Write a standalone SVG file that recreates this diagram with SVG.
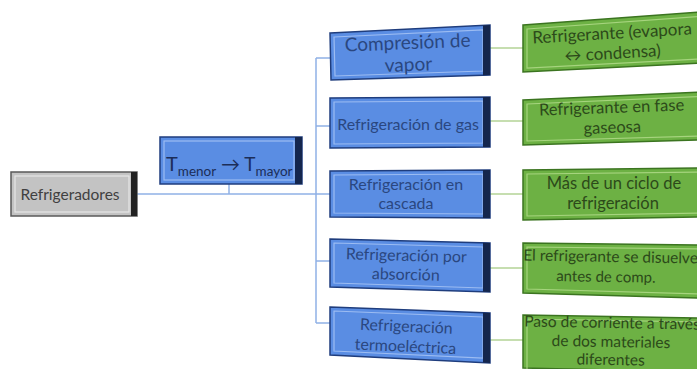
<svg xmlns="http://www.w3.org/2000/svg" width="697" height="369" viewBox="0 0 697 369">
<style>
.bg{fill:#ffffff}
.gray{fill:#c3c3c3;stroke:#5a5a5a;stroke-width:1.5}
.grayin{fill:none;stroke:#e6e6e6;stroke-width:1.2}
.grayband{fill:#222222}
.blue{fill:#5a8de3;stroke:#1f3d7d;stroke-width:1.5}
.bluein{fill:none;stroke:#9cbcf2;stroke-width:1.2}
.blueband{fill:#14264d}
.green{fill:#6db144;stroke:#3b7420;stroke-width:1.5}
.greenin{fill:none;stroke:#a6d47e;stroke-width:1.2}
text{font-family:Lato,"Liberation Sans",sans-serif;text-anchor:middle}
.tb{fill:#2a4780;font-size:16px}
.tg{fill:#2c4a1a;font-size:16.5px}
.cb{stroke:#8fb0e6;stroke-width:1.5;fill:none}
.cg{stroke:#b3d396;stroke-width:1.5;fill:none}
</style>
<rect class="bg" width="697" height="369"/>
<g id="connectors">
<line class="cb" x1="137" y1="194" x2="330" y2="194"/>
<line class="cb" x1="229" y1="184" x2="229" y2="194"/>
<line class="cb" x1="316" y1="58" x2="316" y2="323"/>
<line class="cb" x1="316" y1="58" x2="331" y2="58"/>
<line class="cb" x1="316" y1="126" x2="331" y2="126"/>
<line class="cb" x1="316" y1="261" x2="331" y2="261"/>
<line class="cb" x1="316" y1="323" x2="331" y2="323"/>
<line class="cg" x1="490" y1="48" x2="523" y2="48"/>
<line class="cg" x1="490" y1="121" x2="523" y2="121"/>
<line class="cg" x1="490" y1="194" x2="523" y2="194"/>
<line class="cg" x1="490" y1="268" x2="523" y2="268"/>
<line class="cg" x1="490" y1="340" x2="523" y2="340"/>
</g>
<g id="refrigeradores">
<rect class="gray" x="11" y="172" width="126" height="44"/>
<rect class="grayin" x="15" y="176" width="114" height="36"/>
<rect class="grayband" x="131" y="172" width="6" height="44"/>
<text x="70" y="200" style="fill:#404040;font-size:15.5px">Refrigeradores</text>
</g>
<g id="tmenor">
<rect class="blue" x="160" y="137" width="142" height="47"/>
<rect class="bluein" x="164" y="141" width="130" height="39"/>
<rect class="blueband" x="295" y="137" width="7" height="47"/>
<text x="166" y="171" style="fill:#1c2e58;font-size:20px;text-anchor:start">T<tspan font-size="13.5" dy="5">menor</tspan><tspan font-size="19" dy="-5"> → T</tspan><tspan font-size="13.5" dy="5">mayor</tspan></text>
</g>
<g id="compresion">
<polygon class="blue" points="330,33 490,25 490,75 331,80"/>
<polygon class="bluein" points="334,37 483,30 483,71 335,76"/>
<polygon class="blueband" points="483,25.4 490,25 490,75 483,75.2"/>
<g transform="rotate(-2.3 410 54)">
<text class="tb" x="408" y="49" style="font-size:19px">Compresión de</text>
<text class="tb" x="408" y="71" style="font-size:19px">vapor</text>
</g>
</g>
<g id="gas">
<polygon class="blue" points="330,98 490,97 490,147 330,148"/>
<polygon class="bluein" points="334,102 483,101 483,143 334,144"/>
<polygon class="blueband" points="483,97 490,97 490,147 483,147"/>
<text class="tb" x="408" y="130">Refrigeración de gas</text>
</g>
<g id="cascada">
<polygon class="blue" points="330,171 490,170 490,218 330,217"/>
<polygon class="bluein" points="334,175 483,174 483,214 334,213"/>
<polygon class="blueband" points="483,170 490,170 490,218 483,218"/>
<text class="tb" x="406" y="190">Refrigeración en</text>
<text class="tb" x="406" y="209">cascada</text>
</g>
<g id="absorcion">
<polygon class="blue" points="330,239 490,243 490,292 330,287"/>
<polygon class="bluein" points="334,243 483,247 483,288 334,283"/>
<polygon class="blueband" points="483,242.8 490,243 490,292 483,291.8"/>
<g transform="rotate(1.5 410 266)">
<text class="tb" x="406" y="261">Refrigeración por</text>
<text class="tb" x="406" y="280">absorción</text>
</g>
</g>
<g id="termo">
<polygon class="blue" points="330,307 490,313 490,363 330,355"/>
<polygon class="bluein" points="334,311 483,317 483,358 334,351"/>
<polygon class="blueband" points="483,312.7 490,313 490,363 483,362.6"/>
<g transform="rotate(2.5 410 335)">
<text class="tb" x="406" y="332">Refrigeración</text>
<text class="tb" x="406" y="352">termoeléctrica</text>
</g>
</g>
<g id="g-evapora">
<polygon class="green" points="523,25 700,12 700,63 523,72"/>
<polygon class="greenin" points="527,29 700,16.5 700,59 527,68"/>
<g transform="rotate(-3.3 611 45)">
<text class="tg" x="533" y="39" style="text-anchor:start;font-size:17px">Refrigerante (evapora</text>
<text class="tg" x="612" y="59" style="font-size:17px">↔ condensa)</text>
</g>
</g>
<g id="g-gaseosa">
<polygon class="green" points="523,100 700,92 700,140 523,145"/>
<polygon class="greenin" points="527,104 700,96.5 700,136 527,141"/>
<g transform="rotate(-2 611 120)">
<text class="tg" x="612" y="113">Refrigerante en fase</text>
<text class="tg" x="612" y="133">gaseosa</text>
</g>
</g>
<g id="g-ciclo">
<polygon class="green" points="523,170 700,168 700,217 523,220"/>
<polygon class="greenin" points="527,174 700,172 700,213 527,216"/>
<text class="tg" x="614" y="189">Más de un ciclo de</text>
<text class="tg" x="613" y="209">refrigeración</text>
</g>
<g id="g-disuelve">
<polygon class="green" points="523,243 700,245 700,298 523,293"/>
<polygon class="greenin" points="527,247 700,249 700,294 527,289"/>
<g transform="rotate(1 611 270)">
<text class="tg" x="523" y="262" style="text-anchor:start;font-size:15.5px">El refrigerante se disuelve</text>
<text class="tg" x="606" y="282" style="font-size:15px">antes de comp.</text>
</g>
</g>
<g id="g-paso">
<polygon class="green" points="523,315 700,318 700,372 523,368"/>
<polygon class="greenin" points="527,319 700,322 700,372 527,372"/>
<g transform="rotate(1 611 340)">
<text class="tg" x="524" y="328" style="text-anchor:start;font-size:15.5px">Paso de corriente a través</text>
<text class="tg" x="611" y="347" style="font-size:15.5px">de dos materiales</text>
<text class="tg" x="611" y="365" style="font-size:15.5px">diferentes</text>
</g>
</g>
</svg>
